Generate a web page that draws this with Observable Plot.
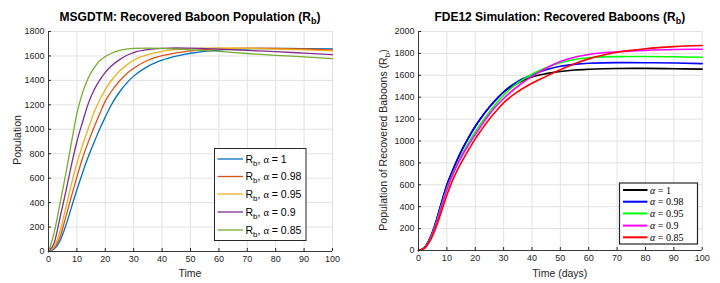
<!DOCTYPE html>
<html><head><meta charset="utf-8">
<script src="https://cdn.jsdelivr.net/npm/d3@7"></script>
<script src="https://cdn.jsdelivr.net/npm/@observablehq/plot@0.6"></script>
<style>
body{margin:0;background:#fff;font-family:"Liberation Sans",Arial,sans-serif;}
#wrap{display:flex;width:720px;height:283px;}
.panel{position:relative;width:360px;height:283px;}
</style></head><body>
<div id="wrap"><div class="panel" id="p1"></div><div class="panel" id="p2"></div></div>
<script>
// time grid (shared)
const t = [0,2,4,6,8,10,12,14,16,18,20,22,25,28,30,35,40,45,50,55,60,70,80,90,100];
const xTicks = [0,10,20,30,40,50,60,70,80,90,100];
const yTicksLeft = [0,200,400,600,800,1000,1200,1400,1600,1800];
const yTicksRight = [0,200,400,600,800,1000,1200,1400,1600,1800,2000];

// MSGDTM (left)
const alphasLeft = ["1","0.98","0.95","0.9","0.85"];
const msgdtm_a100 = [0,20,85,205,355,505,645,775,890,1000,1100,1195,1305,1390,1435,1515,1565,1598,1622,1638,1648,1658,1661,1660,1657];
const msgdtm_a098 = [0,30,115,275,445,610,765,895,1015,1125,1230,1305,1395,1465,1500,1565,1602,1625,1642,1652,1658,1663,1662,1657,1650];
const msgdtm_a095 = [0,40,160,350,545,720,870,1005,1135,1240,1325,1395,1475,1535,1565,1610,1638,1652,1660,1664,1665,1662,1656,1649,1641];
const msgdtm_a090 = [0,70,270,480,700,900,1060,1210,1320,1400,1465,1515,1570,1610,1628,1652,1662,1665,1664,1660,1655,1645,1635,1623,1611];
const msgdtm_a085 = [0,155,385,625,880,1130,1300,1420,1500,1560,1595,1620,1645,1658,1662,1664,1662,1656,1650,1644,1637,1620,1605,1592,1578];
const colorsLeft = ["#0072BD","#D95319","#EDB120","#7E2F8E","#77AC30"];

// FDE12 (right)
const alphasRight = ["1","0.98","0.95","0.9","0.85"];
const fde_a100 = [0,25,110,250,430,600,730,850,955,1050,1135,1210,1310,1395,1445,1530,1585,1615,1635,1648,1655,1662,1663,1660,1656];
const fde_a098 = [0,24,108,248,425,595,725,845,950,1045,1130,1207,1310,1398,1450,1545,1605,1650,1682,1700,1710,1716,1715,1712,1707];
const fde_a095 = [0,22,100,232,400,565,695,810,910,1000,1085,1160,1265,1362,1418,1530,1610,1668,1715,1745,1760,1771,1772,1769,1765];
const fde_a090 = [0,20,95,225,390,555,690,800,895,978,1058,1135,1245,1335,1388,1500,1590,1665,1725,1765,1790,1815,1828,1835,1838];
const fde_a085 = [0,18,85,200,350,505,640,750,845,935,1020,1095,1200,1292,1348,1450,1527,1590,1650,1705,1750,1810,1843,1862,1872];
const colorsRight = ["#000000","#0000FF","#00FF00","#FF00FF","#FF0000"];

const AX = "#262626", GRID = "#e2e2e2";

function makePanel(o) {
  const data = o.series.flatMap((s, i) => s.map((v, j) => ({t: t[j], v, k: o.keys[i]})));
  const plot = Plot.plot({
    width: 360, height: 283,
    marginLeft: o.ml, marginRight: o.mr, marginTop: 31, marginBottom: o.mb,
    x: {domain: [0, 100]},
    y: {domain: [0, o.yMax]},
    color: {domain: o.keys, range: o.colors},
    style: {fontFamily: "Liberation Sans, Arial, sans-serif", fontSize: "9px", color: AX, background: "#fff", overflow: "visible"},
    marks: [
      Plot.gridX(xTicks, {stroke: GRID, strokeOpacity: 1}),
      Plot.gridY(o.yTicks, {stroke: GRID, strokeOpacity: 1}),
      Plot.line(data, {x: "t", y: "v", z: "k", stroke: "k", strokeWidth: o.sw, curve: "monotone-x"}),
      Plot.ruleX([0], {stroke: AX, strokeWidth: 0.9}),
      Plot.ruleY([0], {stroke: AX, strokeWidth: 0.9}),
      Plot.axisX(xTicks, {tickSize: -3, tickPadding: 7, label: null, stroke: AX, tickFormat: d3.format("d")}),
      Plot.axisY(o.yTicks, {tickSize: -3, tickPadding: 7, label: null, stroke: AX, tickFormat: d3.format("d")})
    ]
  });
  const svg = d3.select(plot);
  const cx = (o.ml + (360 - o.mr)) / 2;
  // title
  const tt = svg.append("text").attr("x", cx).attr("y", 21).attr("text-anchor", "middle")
    .attr("font-weight", "bold").attr("font-size", 12).attr("fill", "#000");
  tt.append("tspan").text(o.title);
  tt.append("tspan").attr("font-size", 9).attr("dy", 3).text("b");
  tt.append("tspan").attr("dy", -3).text(")");
  // x label
  svg.append("text").attr("x", cx).attr("y", 276.5).attr("text-anchor", "middle")
    .attr("font-size", 10.5).attr("fill", AX).text(o.xLabel);
  // y label
  const yl = svg.append("text").attr("transform", `translate(${o.ylx},140) rotate(-90)`)
    .attr("text-anchor", "middle").attr("font-size", 10.5).attr("fill", AX);
  yl.append("tspan").text(o.yLabel);
  if (o.ySub) {
    yl.append("tspan").attr("font-size", 8).attr("dy", 2.5).text("b");
    yl.append("tspan").attr("dy", -2.5).text(")");
  }
  // legend
  const L = o.legend;
  const g = svg.append("g").attr("text-anchor", "start");
  g.append("rect").attr("x", L.x).attr("y", L.y).attr("width", L.w).attr("height", L.h)
    .attr("fill", "#fff").attr("stroke", AX).attr("stroke-width", L.bw);
  o.keys.forEach((k, i) => {
    const y = L.rows[i];
    g.append("line").attr("x1", L.lx1).attr("x2", L.lx2).attr("y1", y).attr("y2", y)
      .attr("stroke", o.colors[i]).attr("stroke-width", L.lw);
    const tx = g.append("text").attr("x", L.tx).attr("y", y + 3.6).attr("fill", "#000").attr("text-anchor", "start");
    L.label(tx, k);
  });
  document.getElementById(o.id).appendChild(plot);
}

makePanel({
  id: "p1", series: [msgdtm_a100, msgdtm_a098, msgdtm_a095, msgdtm_a090, msgdtm_a085],
  keys: alphasLeft, colors: colorsLeft, yMax: 1800, yTicks: yTicksLeft,
  ml: 48, mr: 28, mb: 32, sw: 1.3,
  title: "MSGDTM: Recovered Baboon Population (R", xLabel: "Time", yLabel: "Population", ySub: false, ylx: 20.5,
  legend: {x: 214.5, y: 148.5, w: 91.5, h: 92, bw: 1, rows: [159, 176.5, 194, 212, 230], lx1: 217.5, lx2: 243, lw: 1.3, tx: 245.5,
    label: (tx, k) => {
      tx.attr("font-size", 10.5);
      tx.append("tspan").text("R");
      tx.append("tspan").attr("font-size", 8).attr("dy", 3).text("b");
      tx.append("tspan").attr("dy", -3).text(", ");
      tx.append("tspan").attr("font-family", "Liberation Serif, serif").text("α");
      tx.append("tspan").text(" = " + k);
    }}
});

makePanel({
  id: "p2", series: [fde_a100, fde_a098, fde_a095, fde_a090, fde_a085],
  keys: alphasRight, colors: colorsRight, yMax: 2000, yTicks: yTicksRight,
  ml: 58, mr: 18.3, mb: 33, sw: 1.6,
  title: "FDE12 Simulation: Recovered Baboons (R", xLabel: "Time (days)", yLabel: "Population of Recovered Baboons (R", ySub: true, ylx: 27,
  legend: {x: 259.5, y: 183, w: 78, h: 61, bw: 1.2, rows: [190, 201.7, 213.4, 225.6, 237.3], lx1: 263, lx2: 287.5, lw: 2, tx: 290,
    label: (tx, k) => {
      tx.attr("font-size", 10).attr("font-family", "Liberation Serif, serif");
      tx.append("tspan").attr("font-style", "italic").text("α");
      tx.append("tspan").text(" = " + k);
    }}
});
</script>
</body></html>
